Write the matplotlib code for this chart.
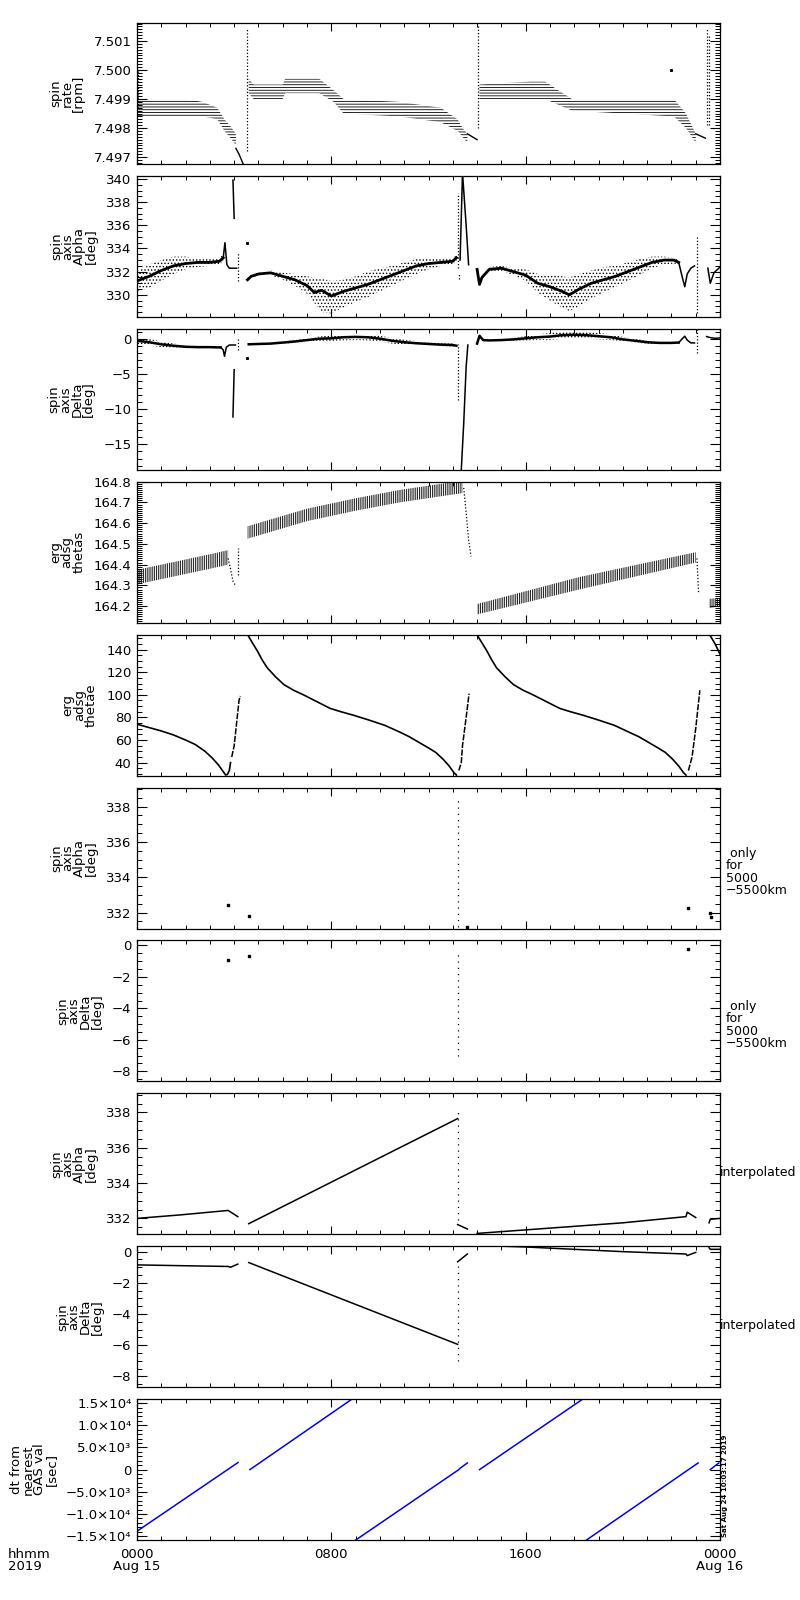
import math
import matplotlib
matplotlib.use("Agg")
import matplotlib.pyplot as plt
from matplotlib.ticker import MultipleLocator, FuncFormatter

plt.rcParams['font.family'] = ['DejaVu Sans']
plt.rcParams['hatch.linewidth'] = 0.6

# ---------------- data (time in hours from 2019-08-15 00:00) ----------------
# spin rate [rpm]: quantized bands (lo/hi envelopes) + solid pieces
rate_band1_t = [0.0, 1.0, 2.0, 2.7, 3.3, 3.6, 3.9, 4.07]
rate_band1_lo = [7.4984, 7.4984, 7.4984, 7.4984, 7.4983, 7.4979, 7.4976, 7.4974]
rate_band1_hi = [7.4990, 7.4990, 7.4990, 7.4989, 7.4987, 7.4983, 7.4980, 7.4978]
rate_tail1_t = [4.07, 4.2, 4.3, 4.45]
rate_tail1_v = [7.4973, 7.4971, 7.4969, 7.4966]
rate_band2_t = [4.6, 4.8, 6.0, 6.1, 7.5, 8.1, 8.5, 10.8, 12.5, 13.2, 13.4, 13.6]
rate_band2_lo = [7.4992, 7.4990, 7.4990, 7.4992, 7.4992, 7.4989, 7.4985, 7.4984, 7.4982, 7.4979, 7.4977, 7.4975]
rate_band2_hi = [7.4997, 7.4995, 7.4995, 7.4997, 7.4997, 7.4993, 7.4990, 7.4989, 7.4987, 7.4983, 7.4980, 7.4978]
rate_tail2_t = [13.6, 14.0]
rate_tail2_v = [7.4978, 7.4976]
rate_band3_t = [14.1, 16.2, 16.8, 17.9, 22.1, 22.6, 23.0]
rate_band3_lo = [7.4990, 7.4990, 7.4990, 7.4986, 7.4984, 7.4980, 7.4975]
rate_band3_hi = [7.4995, 7.4996, 7.4996, 7.4990, 7.4990, 7.4985, 7.4978]
rate_tail3_t = [23.0, 23.4]
rate_tail3_v = [7.4978, 7.49765]
rate_spike_t = [0.05, 4.53, 14.02, 23.45, 23.55]
rate_spike_lo = [7.4987, 7.4972, 7.4980, 7.4981, 7.4981]
rate_spike_hi = [7.5000, 7.5014, 7.5015, 7.5014, 7.5012]
rate_dot_t = [22.0]
rate_dot_v = [7.5000]

# spin axis Alpha [deg]
alpha_a_t = [0.0, 0.5, 1.0, 1.5, 2.0, 2.5, 3.0, 3.4, 3.55]
alpha_a_core = [331.2, 331.6, 332.1, 332.5, 332.7, 332.8, 332.8, 332.9, 333.2]
alpha_a_lo = [330.3, 330.6, 331.2, 331.8, 332.2, 332.4, 332.5, 332.6, 332.9]
alpha_a_hi = [332.0, 332.6, 333.0, 333.3, 333.3, 333.1, 333.1, 333.2, 333.5]
alpha_bump1_t = [3.55, 3.62, 3.7, 3.8, 4.1]
alpha_bump1_v = [333.2, 334.5, 332.6, 332.3, 332.3]
alpha_spike1_t = [3.95, 4.0]
alpha_spike1_v = [339.9, 336.6]
alpha_b_t = [4.55, 4.7, 5.0, 5.5, 6.0, 6.5, 7.0, 7.3, 7.6, 8.0, 8.5, 9.0, 9.5,
             10.0, 10.5, 11.0, 11.5, 12.0, 12.5, 13.0, 13.15]
alpha_b_core = [331.3, 331.6, 331.8, 331.9, 331.6, 331.3, 330.8, 330.2, 330.4, 329.9, 330.3,
                330.6, 330.9, 331.3, 331.7, 332.1, 332.5, 332.7, 332.8, 332.9, 333.2]
alpha_b_lo = [331.2, 331.5, 331.65, 331.7, 331.3, 330.8, 330.1, 329.3, 328.5, 328.4, 328.9,
              329.4, 329.8, 330.3, 330.8, 331.3, 331.8, 332.2, 332.5, 332.6, 332.9]
alpha_b_hi = [331.4, 331.7, 331.95, 332.1, 331.9, 331.8, 331.6, 331.5, 331.4, 331.2, 331.3,
              331.6, 332.0, 332.3, 332.5, 332.8, 333.1, 333.2, 333.1, 333.2, 333.4]
alpha_spike2_t = [13.3, 13.4, 13.55, 13.65]
alpha_spike2_v = [333.0, 340.5, 336.0, 332.6]
alpha_c_t = [14.0, 14.1, 14.2, 14.5, 15.0, 15.5, 16.0, 16.5, 17.0, 17.5, 17.8,
             18.2, 18.7, 19.2, 19.7, 20.2, 20.7, 21.2, 21.7, 22.1, 22.3]
alpha_c_core = [332.2, 330.9, 331.5, 332.2, 332.3, 332.0, 331.7, 331.0, 330.7, 330.3, 330.0,
                330.5, 331.0, 331.3, 331.6, 332.0, 332.4, 332.8, 333.0, 333.0, 332.8]
alpha_c_lo = [332.1, 330.8, 331.4, 332.0, 332.05, 331.7, 331.2, 330.2, 329.5, 328.9, 328.6,
              329.0, 329.7, 330.2, 330.7, 331.2, 331.7, 332.3, 332.6, 332.7, 332.6]
alpha_c_hi = [332.3, 331.0, 331.6, 332.4, 332.5, 332.3, 332.2, 331.8, 331.8, 331.6, 331.5,
              331.8, 332.1, 332.4, 332.5, 332.8, 333.1, 333.3, 333.3, 333.2, 333.0]
alpha_dip3_t = [22.3, 22.45, 22.55, 22.65, 22.8, 22.95]
alpha_dip3_v = [332.8, 331.5, 330.7, 331.8, 332.3, 332.5]
alpha_d_t = [23.5, 23.6, 23.75, 24.0]
alpha_d_v = [332.3, 331.0, 331.9, 332.4]
alpha_vert_t = [4.15, 13.2, 13.27, 23.05]
alpha_vert_lo = [331.2, 332.3, 331.4, 328.4]
alpha_vert_hi = [333.7, 338.8, 331.9, 335.0]
alpha_dot_t = [4.53]
alpha_dot_v = [334.5]

# spin axis Delta [deg]
delta_a_t = [0.0, 0.5, 1.0, 1.5, 2.0, 2.5, 3.0, 3.45]
delta_a_core = [-0.3, -0.5, -0.8, -1.0, -1.15, -1.2, -1.2, -1.25]
delta_a_lo = [-0.8, -0.95, -1.2, -1.3, -1.4, -1.4, -1.35, -1.4]
delta_a_hi = [0.1, 0.0, -0.4, -0.7, -0.9, -1.0, -1.05, -1.1]
delta_dip1_t = [3.45, 3.55, 3.6, 3.68, 3.8, 4.05]
delta_dip1_v = [-1.25, -1.6, -2.5, -1.2, -0.9, -0.9]
delta_spike1_t = [3.95, 4.0]
delta_spike1_v = [-11.1, -4.4]
delta_b_t = [4.6, 5.0, 5.5, 6.0, 6.5, 7.0, 7.5, 8.0, 8.5, 9.0, 9.5, 10.0,
             10.5, 11.0, 11.5, 12.0, 12.5, 13.0, 13.15]
delta_b_core = [-0.8, -0.75, -0.7, -0.55, -0.4, -0.2, 0.0, 0.05, 0.2, 0.25, 0.2, 0.0,
                -0.3, -0.5, -0.65, -0.75, -0.85, -0.9, -1.0]
delta_b_lo = [-0.9, -0.85, -0.8, -0.7, -0.6, -0.45, -0.35, -0.35, -0.25, -0.2, -0.25, -0.45,
              -0.7, -0.85, -0.95, -1.0, -1.05, -1.1, -1.15]
delta_b_hi = [-0.7, -0.65, -0.6, -0.4, -0.2, 0.05, 0.3, 0.45, 0.6, 0.65, 0.6, 0.4,
              0.1, -0.15, -0.35, -0.5, -0.65, -0.7, -0.85]
delta_spike2_t = [13.35, 13.45, 13.55, 13.62]
delta_spike2_v = [-18.6, -12.0, -4.0, -0.9]
delta_c_t = [14.0, 14.1, 14.25, 14.5, 15.0, 15.5, 16.0, 16.5, 17.0, 17.5, 18.0,
             18.5, 19.0, 19.5, 20.0, 20.5, 21.0, 21.5, 22.0, 22.3]
delta_c_core = [-0.7, 0.4, -0.2, -0.25, -0.2, -0.1, 0.05, 0.2, 0.3, 0.5, 0.55,
                0.5, 0.35, 0.2, -0.1, -0.3, -0.5, -0.6, -0.6, -0.55]
delta_c_lo = [-0.8, 0.3, -0.3, -0.35, -0.35, -0.3, -0.25, -0.2, -0.2, 0.0, 0.05,
              0.0, -0.1, -0.2, -0.4, -0.55, -0.7, -0.75, -0.7, -0.65]
delta_c_hi = [-0.6, 0.5, -0.1, -0.15, -0.05, 0.1, 0.35, 0.6, 0.8, 1.0, 1.05,
              1.0, 0.8, 0.6, 0.25, 0.0, -0.3, -0.45, -0.5, -0.45]
delta_bump3_t = [22.3, 22.45, 22.55, 22.65, 22.8, 22.95]
delta_bump3_v = [-0.55, 0.0, 0.35, -0.2, -0.6, -0.6]
delta_d_t = [23.45, 23.6, 23.8, 24.0]
delta_d_v = [0.3, 0.15, 0.05, 0.1]
delta_vert_t = [4.15, 13.2, 23.05]
delta_vert_lo = [-1.6, -8.7, -2.0]
delta_vert_hi = [-0.1, -0.8, 1.4]
delta_dot_t = [4.53]
delta_dot_v = [-2.7]

# erg adsg thetas
thetas_a_t = [0.0, 1.0, 2.0, 3.0, 3.75]
thetas_a_lo = [164.305, 164.33, 164.355, 164.38, 164.40]
thetas_a_hi = [164.375, 164.40, 164.425, 164.45, 164.47]
thetas_b_t = [4.55, 7.0, 9.0, 10.8, 13.4]
thetas_b_lo = [164.525, 164.61, 164.66, 164.70, 164.745]
thetas_b_hi = [164.585, 164.67, 164.72, 164.76, 164.805]
thetas_c_t = [14.0, 18.2, 23.0]
thetas_c_lo = [164.16, 164.28, 164.41]
thetas_c_hi = [164.21, 164.34, 164.46]
thetas_d_t = [23.55, 24.0]
thetas_d_lo = [164.19, 164.20]
thetas_d_hi = [164.235, 164.24]
thetas_drop1_t = [3.75, 3.85, 3.95, 4.05]
thetas_drop1_v = [164.43, 164.38, 164.32, 164.30]
thetas_drop2_t = [13.45, 13.55, 13.65, 13.75]
thetas_drop2_v = [164.77, 164.65, 164.52, 164.44]
thetas_drop3_t = [23.05, 23.12]
thetas_drop3_v = [164.43, 164.26]
thetas_vert_t = [4.15]
thetas_vert_lo = [164.35]
thetas_vert_hi = [164.48]

# erg adsg thetae
thetae_a_t = [0.0, 0.5, 1.0, 1.5, 2.0, 2.4, 2.8, 3.1, 3.35, 3.55, 3.65, 3.72, 3.8, 3.85]
thetae_a_v = [74, 71, 68, 64.5, 60, 56, 50, 44, 38, 32, 29, 29.5, 33, 40]
thetae_up1_t = [3.9, 4.0, 4.1, 4.2, 4.25]
thetae_up1_v = [45, 55, 75, 95, 99]
thetae_b_t = [4.56, 4.75, 4.95, 5.15, 5.36, 5.7, 6.05, 6.45, 6.85, 7.4, 7.95, 8.4, 8.9, 9.5,
              10.2, 10.82, 11.2, 11.6, 12.0, 12.3, 12.6, 12.85, 13.05, 13.15]
thetae_b_v = [153, 146, 139, 131, 124, 116, 109, 104, 100, 94, 88, 85, 82, 78,
              73, 67, 63, 58, 53, 49, 43, 37, 31, 29]
thetae_up2_t = [13.25, 13.35, 13.4, 13.55, 13.67]
thetae_up2_v = [33, 40, 55, 80, 101]
thetae_c_t = [14.0, 14.2, 14.4, 14.6, 14.8, 15.15, 15.5, 15.9, 16.3, 16.85, 17.4, 17.85, 18.35,
              18.95, 19.65, 20.25, 20.65, 21.05, 21.45, 21.75, 22.05, 22.3, 22.5, 22.6]
thetae_c_v = [153, 146, 139, 131, 124, 116, 109, 104, 100, 94, 88, 85, 82,
              78, 73, 67, 63, 58, 53, 49, 43, 37, 31, 29]
thetae_up3_t = [22.7, 22.85, 23.0, 23.17]
thetae_up3_v = [33, 45, 70, 104]
thetae_d_t = [23.58, 23.8, 24.0]
thetae_d_v = [153, 145, 136]

# spin axis Alpha, only for 5000-5500 km
alpha5k_t = [3.75, 4.6, 13.6, 22.7, 23.6, 23.62]
alpha5k_v = [332.45, 331.8, 331.2, 332.25, 332.0, 331.75]
alpha5k_vert_t = [13.2]
alpha5k_vert_lo = [331.2]
alpha5k_vert_hi = [338.5]
# spin axis Delta, only for 5000-5500 km
delta5k_t = [3.75, 4.6, 22.7]
delta5k_v = [-0.9, -0.65, -0.2]
delta5k_vert_t = [13.2]
delta5k_vert_lo = [-7.0]
delta5k_vert_hi = [-0.5]

# interpolated Alpha
alpha_i_a_t = [0.0, 1.8, 3.75, 4.15]
alpha_i_a_v = [332.0, 332.2, 332.45, 332.1]
alpha_i_b_t = [4.6, 13.2]
alpha_i_b_v = [331.7, 337.65]
alpha_i_c_t = [13.2, 13.6]
alpha_i_c_v = [331.65, 331.4]
alpha_i_d_t = [14.0, 16.0, 18.0, 20.0, 22.6, 22.65, 23.0]
alpha_i_d_v = [331.15, 331.35, 331.55, 331.75, 332.1, 332.35, 332.05]
alpha_i_e_t = [23.55, 23.6, 24.0]
alpha_i_e_v = [331.75, 331.95, 332.0]
alpha_i_vert_lo = [331.9]
alpha_i_vert_hi = [338.2]

# interpolated Delta
delta_i_a_t = [0.0, 1.8, 3.75, 3.85, 4.15]
delta_i_a_v = [-0.85, -0.9, -0.95, -1.0, -0.8]
delta_i_b_t = [4.6, 13.2]
delta_i_b_v = [-0.7, -5.95]
delta_i_c_t = [13.2, 13.6]
delta_i_c_v = [-0.65, -0.15]
delta_i_d_t = [14.0, 16.0, 18.0, 20.0, 22.6, 22.65, 23.0]
delta_i_d_v = [0.4, 0.3, 0.15, 0.0, -0.15, -0.25, -0.05]
delta_i_e_t = [23.55, 23.6, 24.0]
delta_i_e_v = [0.25, 0.15, 0.15]
delta_i_vert_lo = [-7.0]
delta_i_vert_hi = [-0.65]

# dt from nearest GAS val [sec]
dt_segments_t = [[0.0, 4.16], [4.65, 8.85], [9.0, 13.25, 13.3, 13.6],
                 [14.1, 18.35], [18.5, 23.1], [23.6, 23.95]]
dt_segments_v = [[-13900, 1600], [0, 15900], [-15900, 0, 300, 1500],
                 [0, 15900], [-15900, 1500], [0, 1500]]

# ---------------- figure ----------------
fig = plt.figure(figsize=(8, 16), dpi=100)
W, H = 800.0, 1600.0
left_px, right_px = 137, 720
top0, step, hgt = 23, 152.9, 141

labels = ["spin\nrate\n[rpm]", "spin\naxis\nAlpha\n[deg]", "spin\naxis\nDelta\n[deg]",
          "erg\nadsg\nthetas", "erg\nadsg\nthetae", "spin\naxis\nAlpha\n[deg]",
          "spin\naxis\nDelta\n[deg]", "spin\naxis\nAlpha\n[deg]", "spin\naxis\nDelta\n[deg]",
          "dt from\nnearest\nGAS val\n[sec]"]
ylims = [(7.49676, 7.50162), (328.1, 340.26), (-18.6, 1.4), (164.12, 164.80), (28.5, 153.3),
         (331.1, 339.08), (-8.64, 0.32), (331.1, 339.08), (-8.7, 0.35), (-15900, 15900)]
majors = [0.001, 2, 5, 0.1, 20, 2, 2, 2, 2, 5000]
minors = [0.0001, 0.5, 1, 0.01, 5, 0.5, 0.5, 0.5, 0.5, 1000]

axes = []
for i in range(10):
    top = top0 + i * step
    ax = fig.add_axes([left_px / W, 1 - (top + hgt) / H, (right_px - left_px) / W, hgt / H])
    ax.set_xlim(0, 24)
    ax.set_ylim(*ylims[i])
    ax.xaxis.set_major_locator(MultipleLocator(8))
    ax.xaxis.set_minor_locator(MultipleLocator(1))
    ax.yaxis.set_major_locator(MultipleLocator(majors[i]))
    ax.yaxis.set_minor_locator(MultipleLocator(minors[i]))
    ax.tick_params(which='both', direction='in', top=True, right=True, width=0.8,
                   labelsize=9.5, pad=4)
    ax.tick_params(which='major', length=7)
    ax.tick_params(which='minor', length=3.5, width=0.7)
    ax.tick_params(axis='x', which='major', length=6)
    ax.tick_params(axis='x', which='minor', length=3)
    for s in ax.spines.values():
        s.set_linewidth(0.9)
    ax.set_ylabel(labels[i], fontsize=9.5, linespacing=0.85, labelpad=6)
    if i < 9:
        ax.tick_params(axis='x', labelbottom=False)
    axes.append(ax)

minus = lambda s: s.replace('-', '\u2212')
axes[0].yaxis.set_major_formatter(FuncFormatter(lambda v, p: '%.3f' % v))
for k in (1, 2, 5, 6, 7, 8):
    axes[k].yaxis.set_major_formatter(FuncFormatter(lambda v, p: minus('%d' % round(v))))
axes[3].yaxis.set_major_formatter(FuncFormatter(lambda v, p: '%.1f' % v))
axes[4].yaxis.set_major_formatter(FuncFormatter(lambda v, p: '%d' % round(v)))

SUP = {'3': '\u00b3', '4': '\u2074'}


def sci(v, p):
    if abs(v) < 1e-9:
        return '0'
    e = int(math.floor(math.log10(abs(v))))
    return minus('%.1f\u00d710' % (v / 10 ** e)) + SUP.get(str(e), str(e))


axes[9].yaxis.set_major_formatter(FuncFormatter(sci))
axes[9].set_xticks([0, 8, 16, 24])
axes[9].set_xticklabels(['0000\nAug 15', '0800', '1600', '0000\nAug 16'], fontsize=9.5,
                        linespacing=0.9)
axes[9].tick_params(axis='x', pad=6)

K = 'black'
DOT = (0, (1, 1.6))


def band(ax, t, lo, hi, hatch):
    ax.fill_between(t, lo, hi, facecolor='none', edgecolor=K, hatch=hatch, linewidth=0)


def vlines(ax, t, lo, hi, ls=DOT):
    for tt, a, b in zip(t, lo, hi):
        ax.plot([tt, tt], [a, b], color=K, lw=0.9, ls=ls)


# panel 1
ax = axes[0]
band(ax, rate_band1_t, rate_band1_lo, rate_band1_hi, '------')
band(ax, rate_band2_t, rate_band2_lo, rate_band2_hi, '------')
band(ax, rate_band3_t, rate_band3_lo, rate_band3_hi, '------')
for t, v in ((rate_tail1_t, rate_tail1_v), (rate_tail2_t, rate_tail2_v), (rate_tail3_t, rate_tail3_v)):
    ax.plot(t, v, color=K, lw=1.0)
vlines(ax, rate_spike_t, rate_spike_lo, rate_spike_hi)
ax.plot(rate_dot_t, rate_dot_v, 's', color=K, ms=1.2)

# panel 2
ax = axes[1]
for t, lo, hi, c in ((alpha_a_t, alpha_a_lo, alpha_a_hi, alpha_a_core),
                     (alpha_b_t, alpha_b_lo, alpha_b_hi, alpha_b_core),
                     (alpha_c_t, alpha_c_lo, alpha_c_hi, alpha_c_core)):
    band(ax, t, lo, hi, '.....')
    ax.plot(t, c, color=K, lw=2.0)
for t, v in ((alpha_bump1_t, alpha_bump1_v), (alpha_spike1_t, alpha_spike1_v),
             (alpha_spike2_t, alpha_spike2_v), (alpha_dip3_t, alpha_dip3_v), (alpha_d_t, alpha_d_v)):
    ax.plot(t, v, color=K, lw=1.1)
vlines(ax, alpha_vert_t, alpha_vert_lo, alpha_vert_hi)
ax.plot(alpha_dot_t, alpha_dot_v, 's', color=K, ms=1.2)

# panel 3
ax = axes[2]
for t, lo, hi, c in ((delta_a_t, delta_a_lo, delta_a_hi, delta_a_core),
                     (delta_b_t, delta_b_lo, delta_b_hi, delta_b_core),
                     (delta_c_t, delta_c_lo, delta_c_hi, delta_c_core)):
    band(ax, t, lo, hi, '.....')
    ax.plot(t, c, color=K, lw=1.8)
for t, v in ((delta_dip1_t, delta_dip1_v), (delta_spike1_t, delta_spike1_v),
             (delta_spike2_t, delta_spike2_v), (delta_bump3_t, delta_bump3_v), (delta_d_t, delta_d_v)):
    ax.plot(t, v, color=K, lw=1.1)
vlines(ax, delta_vert_t, delta_vert_lo, delta_vert_hi)
ax.plot(delta_dot_t, delta_dot_v, 's', color=K, ms=1.2)

# panel 4
ax = axes[3]
for t, lo, hi in ((thetas_a_t, thetas_a_lo, thetas_a_hi), (thetas_b_t, thetas_b_lo, thetas_b_hi),
                  (thetas_c_t, thetas_c_lo, thetas_c_hi), (thetas_d_t, thetas_d_lo, thetas_d_hi)):
    band(ax, t, lo, hi, '|||||||||')
for t, v in ((thetas_drop1_t, thetas_drop1_v), (thetas_drop2_t, thetas_drop2_v),
             (thetas_drop3_t, thetas_drop3_v)):
    ax.plot(t, v, color=K, lw=0.9, ls=DOT)
vlines(ax, thetas_vert_t, thetas_vert_lo, thetas_vert_hi)

# panel 5
ax = axes[4]
for t, v in ((thetae_a_t, thetae_a_v), (thetae_b_t, thetae_b_v), (thetae_c_t, thetae_c_v),
             (thetae_d_t, thetae_d_v)):
    ax.plot(t, v, color=K, lw=1.2)
for t, v in ((thetae_up1_t, thetae_up1_v), (thetae_up2_t, thetae_up2_v), (thetae_up3_t, thetae_up3_v)):
    ax.plot(t, v, color=K, lw=1.1, ls=(0, (4, 1)))

# panels 6, 7
ax = axes[5]
ax.plot(alpha5k_t, alpha5k_v, 's', color=K, ms=1.5)
vlines(ax, alpha5k_vert_t, alpha5k_vert_lo, alpha5k_vert_hi, ls=(0, (1, 4)))
ax = axes[6]
ax.plot(delta5k_t, delta5k_v, 's', color=K, ms=1.5)
vlines(ax, delta5k_vert_t, delta5k_vert_lo, delta5k_vert_hi, ls=(0, (1, 4)))
for ax in axes[5:7]:
    ax.text(1.01, 0.40, ' only\nfor\n5000\n\u22125500km', transform=ax.transAxes,
            ha='left', va='center', fontsize=9, linespacing=0.95)

# panels 8, 9
ax = axes[7]
for t, v in ((alpha_i_a_t, alpha_i_a_v), (alpha_i_b_t, alpha_i_b_v), (alpha_i_c_t, alpha_i_c_v),
             (alpha_i_d_t, alpha_i_d_v), (alpha_i_e_t, alpha_i_e_v)):
    ax.plot(t, v, color=K, lw=1.1)
vlines(ax, [13.2], alpha_i_vert_lo, alpha_i_vert_hi, ls=(0, (1, 4)))
ax = axes[8]
for t, v in ((delta_i_a_t, delta_i_a_v), (delta_i_b_t, delta_i_b_v), (delta_i_c_t, delta_i_c_v),
             (delta_i_d_t, delta_i_d_v), (delta_i_e_t, delta_i_e_v)):
    ax.plot(t, v, color=K, lw=1.1)
vlines(ax, [13.2], delta_i_vert_lo, delta_i_vert_hi, ls=(0, (1, 4)))
for ax in axes[7:9]:
    ax.text(1.0, 0.44, 'interpolated', transform=ax.transAxes, ha='left', va='center', fontsize=9)

# panel 10
ax = axes[9]
for t, v in zip(dt_segments_t, dt_segments_v):
    ax.plot(t, v, color='#0000ff', lw=1.1)

fig.text(8 / W, 1 - 1548 / H, 'hhmm\n2019', ha='left', va='top', fontsize=9.5, linespacing=0.9)
fig.text(722 / W, 1 - 1537 / H, 'Sat Aug 24 10:03:17 2019', rotation=90, ha='left', va='bottom',
         fontsize=5, fontweight='bold')

fig.savefig('out.png', dpi=100)
